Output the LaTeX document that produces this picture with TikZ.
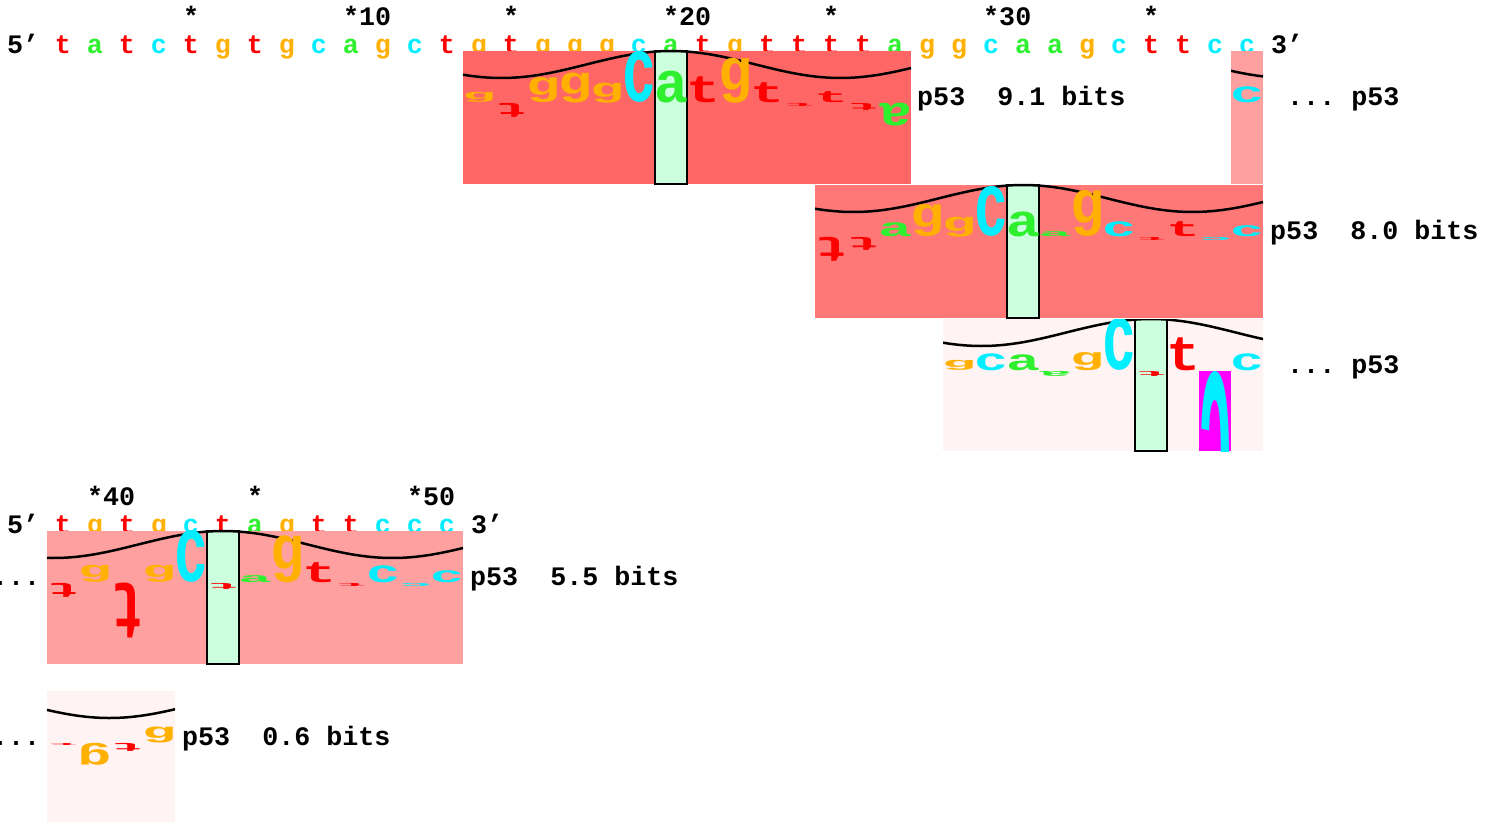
\documentclass[tikz,border=0pt]{standalone}
\usepackage{fontspec}
\setmonofont{Liberation Mono}
\usepackage{graphicx}
\definecolor{myRed}{HTML}{FF0000}
\definecolor{myGreen}{HTML}{2EF02E}
\definecolor{myCyan}{HTML}{00EEFF}
\definecolor{myOrange}{HTML}{FFB000}
\definecolor{myMagenta}{HTML}{FF00FF}
\colorlet{col-a}{myGreen}
\colorlet{col-c}{myCyan}
\colorlet{col-g}{myOrange}
\colorlet{col-t}{myRed}
\definecolor{zeroGreen}{HTML}{CCFFDD}
\definecolor{boxA}{HTML}{FF6666}
\definecolor{boxB}{HTML}{FF7878}
\definecolor{boxC}{HTML}{FFA0A0}
\definecolor{boxD}{HTML}{FFF3F3}
\newcommand{\seqfont}{\ttfamily\bfseries\fontsize{26.7bp}{30bp}\selectfont}

% letters of a walker: name, left x, top y, letter/height list
\newcommand{\walkerletters}[4]{%
  \foreach \b/\h [count=\i from 0] in {#4} {%
    \pgfmathsetmacro{\hgt}{max(abs(\h),1)}%
    \pgfmathsetmacro{\flip}{\h<0 ? 180 : 0}%
    \node[ltr, text=col-\b, rotate=\flip] (#1\i) at (#2+16+32*\i,#3+52)
      {\resizebox{34bp}{\hgt bp}{\raisebox{\depth}{\b}}};%
  }%
}

\begin{document}
\begin{tikzpicture}[x=1bp, y=-1bp]
  \tikzstyle{seq}=[anchor=base, inner sep=0pt, font=\seqfont]
  \tikzstyle{lab}=[anchor=base west, inner sep=0pt, font=\seqfont]
  \tikzstyle{ltr}=[anchor=south, inner sep=0pt, font=\seqfont]
  \tikzstyle{wave}=[line width=2.5bp]
  \tikzstyle{zero}=[fill=zeroGreen, draw=black, line width=1.5bp]

  \useasboundingbox (0,0) rectangle (1497,823);

  % first line of sequence
  \node[lab] (five1) at (7,53) {5’};
  \foreach \b [count=\i] in {t,a,t,c,t,g,t,g,c,a,g,c,t,g,t,g,g,g,c,a,t,g,t,t,t,t,a,g,g,c,a,a,g,c,t,t,c,c}
    \node[seq, text=col-\b] (s\i) at (31+32*\i,53) {\b};
  \node[lab] (three1) at (1271,53) {3’};
  \foreach \k/\lbl in {5/*,10/*10,15/*,20/*20,25/*,30/*30,35/*}
    \node[lab] (tick\k) at (23+32*\k,25) {\lbl};

  % second line of sequence
  \node[lab] (five2) at (7,533) {5’};
  \foreach \b [count=\i from 39] in {t,g,t,g,c,t,a,g,t,t,c,c,c}
    \node[seq, text=col-\b] (s\i) at (32*\i-1185,533) {\b};
  \node[lab] (three2) at (471,533) {3’};
  \foreach \k/\lbl in {40/*40,45/*,50/*50}
    \node[lab] (tick\k) at (32*\k-1193,505) {\lbl};

  % walker 9.1 bits
  \fill[boxA] (463,51) rectangle (911,184);
  \draw[zero] (655,51) rectangle (687,184);
  \draw[wave] plot[domain=463:911, samples=80] (\x,{64.5-13.5*cos((\x-671)/339*360)});
  \walkerletters{wa}{463}{51}{g/10,t/-14,g/25,g/30,g/20,c/51,a/32,t/26,g/45,t/20,t/-3,t/11,t/-7,a/-23}
  \node[lab] (laba) at (917,105) {p53~~9.1~bits};

  % walker piece at the end of line one
  \fill[boxC] (1231,51) rectangle (1263,184);
  \draw[wave] plot[domain=1231:1263, samples=10] (\x,{64.5-13.5*cos((\x-1120)/339*360)});
  \walkerletters{wb}{1231}{51}{c/16}
  \node[lab] (labb) at (1287,105) {...~p53};

  % walker 8.0 bits
  \fill[boxB] (815,185) rectangle (1263,318);
  \draw[zero] (1007,185) rectangle (1039,318);
  \draw[wave] plot[domain=815:1263, samples=80] (\x,{198.5-13.5*cos((\x-1023)/339*360)});
  \walkerletters{wc}{815}{185}{t/-24,t/-13,a/14,g/32,g/20,c/50,a/25,a/5,g/46,c/15,t/-3,t/15,c/-3,c/11}
  \node[lab] (labc) at (1270,239) {p53~~8.0~bits};

  % weak walker on line one
  \begin{scope}
    \clip (943,319) rectangle (1263,451);
    \fill[boxD] (943,319) rectangle (1263,451);
    \draw[zero] (1135,319) rectangle (1167,451);
    \fill[myMagenta] (1199,371) rectangle (1231,451);
    \draw[wave] plot[domain=943:1263, samples=60] (\x,{332.5-13.5*cos((\x-1151)/339*360)});
    \walkerletters{wd}{943}{319}{g/10,c/17,a/16,a/-5,g/18,c/52,t/-5,t/33,c/-170,c/17}
  \end{scope}
  \node[lab] (labd) at (1287,373) {...~p53};

  % walker 5.5 bits
  \fill[boxC] (47,531) rectangle (463,664);
  \draw[zero] (207,531) rectangle (239,664);
  \draw[wave] plot[domain=47:463, samples=80] (\x,{544.5-13.5*cos((\x-223)/339*360)});
  \walkerletters{we}{47}{531}{t/-14,g/17,t/-55,g/17,c/52,t/-6,a/7,g/47,t/20,t/-3,c/17,c/-3,c/12}
  \node[lab] (dotse) at (-8,585) {...};
  \node[lab] (labe) at (470,585) {p53~~5.5~bits};

  % walker 0.6 bits
  \fill[boxD] (47,691) rectangle (175,822);
  \draw[wave] plot[domain=47:175, samples=30] (\x,{704.5-13.5*cos((\x+60)/339*360)});
  \walkerletters{wf}{47}{691}{t/-2,g/-22,t/-8,g/16}
  \node[lab] (dotsf) at (-8,745) {...};
  \node[lab] (labf) at (182,745) {p53~~0.6~bits};
\end{tikzpicture}
\end{document}
